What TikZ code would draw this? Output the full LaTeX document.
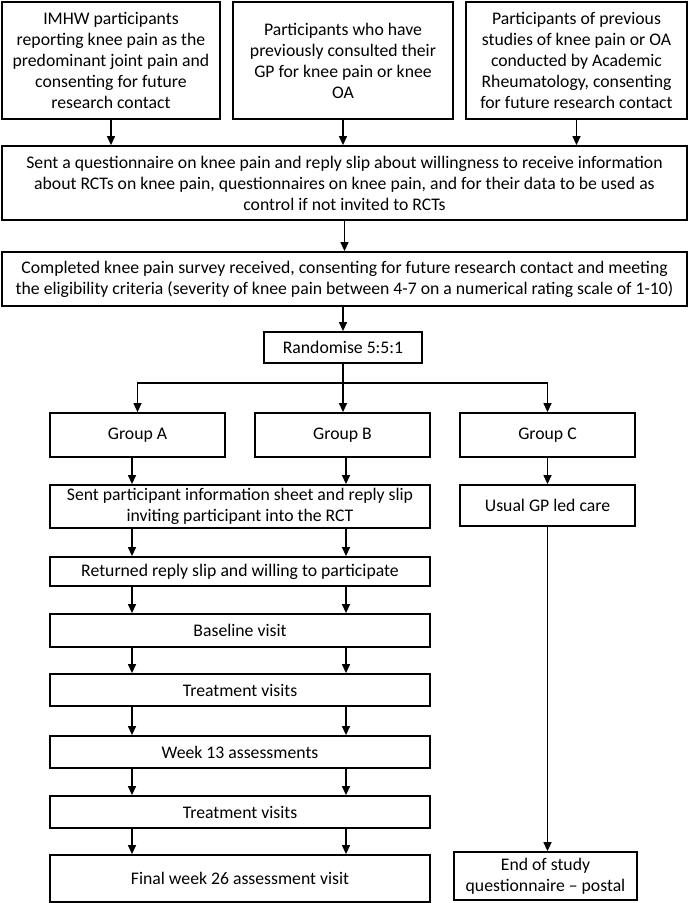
\documentclass[tikz,border=0pt]{standalone}
\usepackage{fontspec}
\setmainfont{Carlito}
\usepackage{tikz}
\usetikzlibrary{arrows.meta}

\begin{document}
\begin{tikzpicture}
        [x=1pt, y=-1pt,
        font=\fontsize{17.7}{21}\selectfont,
        box/.style={rectangle, draw=black, line width=1.8pt, align=center, inner sep=1pt},
        arr/.style={-{Triangle[width=8pt,length=9pt]}, line width=1.3pt}]
        \useasboundingbox (0,0) rectangle (689,903);
        \coordinate (colA) at (132, 0);
        \coordinate (colB) at (346, 0);
        % sources
        \node (src1) at (111, 60.5) [box, minimum width=218, minimum height=117]
          {IMHW participants\\reporting knee pain as the\\predominant joint pain and\\consenting for future\\research contact};
        \node (src2) at (343, 60.5) [box, minimum width=220, minimum height=117]
          {Participants who have\\previously consulted their\\GP for knee pain or knee\\OA};
        \node (src3) at (576.5, 60.5) [box, minimum width=221, minimum height=117]
          {Participants of previous\\studies of knee pain or OA\\conducted by Academic\\Rheumatology, consenting\\for future research contact};
        \node (sent) at (344.5, 183) [box, minimum width=685, minimum height=74]
          {Sent a questionnaire on knee pain and reply slip about willingness to receive information\\about RCTs on knee pain, questionnaires on knee pain, and for their data to be used as\\control if not invited to RCTs};
        \node (elig) at (344.5, 279) [box, minimum width=685, minimum height=54]
          {Completed knee pain survey received, consenting for future research contact and meeting\\the eligibility criteria (severity of knee pain between 4-7 on a numerical rating scale of 1-10)};
        \node (rand) at (343, 347.5) [box, minimum width=158, minimum height=31] {Randomise 5:5:1};
        \coordinate (split) at (343, 383);
        % groups
        \node (grpA) at (137.5, 435) [box, minimum width=175, minimum height=44] {Group A};
        \node (grpB) at (342.5, 435) [box, minimum width=175, minimum height=44] {Group B};
        \node (grpC) at (547.5, 435) [box, minimum width=175, minimum height=44] {Group C};
        % trial arms
        \node (info) at (240, 506.5) [box, minimum width=380, minimum height=43]
          {Sent participant information sheet and reply slip\\inviting participant into the RCT};
        \node (reply) at (240, 571.5) [box, minimum width=380, minimum height=29] {Returned reply slip and willing to participate};
        \node (base) at (240, 630.5) [box, minimum width=380, minimum height=33] {Baseline visit};
        \node (treat1) at (240, 690) [box, minimum width=380, minimum height=32] {Treatment visits};
        \node (wk13) at (240, 752) [box, minimum width=380, minimum height=32] {Week 13 assessments};
        \node (treat2) at (240, 812) [box, minimum width=380, minimum height=32] {Treatment visits};
        \node (final) at (240, 878.5) [box, minimum width=380, minimum height=47] {Final week 26 assessment visit};
        % usual care arm
        \node (usual) at (547.5, 505.5) [box, minimum width=175, minimum height=41] {Usual GP led care};
        \node (endq) at (545.5, 876) [box, minimum width=183, minimum height=48]
          {End of study\\questionnaire -- postal};

        \path (src1) edge[arr] (src1.south |- sent.north);
        \path (src2) edge[arr] (src2.south |- sent.north);
        \path (src3) edge[arr] (src3.south |- sent.north);
        \path (sent) edge[arr] (sent.south |- elig.north);
        \path (elig.south -| rand.north) edge[arr] (rand.north);
        \draw[line width=1.3pt] (rand.south) -- (split);
        \draw[arr] (split) -| (grpA.north);
        \draw[arr] (split) -| (grpC.north);
        \draw[arr] (split) -- (split |- grpB.north);
        \draw[arr] (grpA.south -| colA) -- (info.north -| colA);
        \draw[arr] (grpB.south -| colB) -- (info.north -| colB);
        \draw[arr] (grpC.south) -- (usual.north);
        \foreach \a/\b in {info/reply, reply/base, base/treat1, treat1/wk13, wk13/treat2, treat2/final} {
          \draw[arr] (\a.south -| colA) -- (\b.north -| colA);
          \draw[arr] (\a.south -| colB) -- (\b.north -| colB);
        }
        \draw[arr] (usual.south -| grpC.south) -- (endq.north -| grpC.south);
     \end{tikzpicture}
\end{document}
